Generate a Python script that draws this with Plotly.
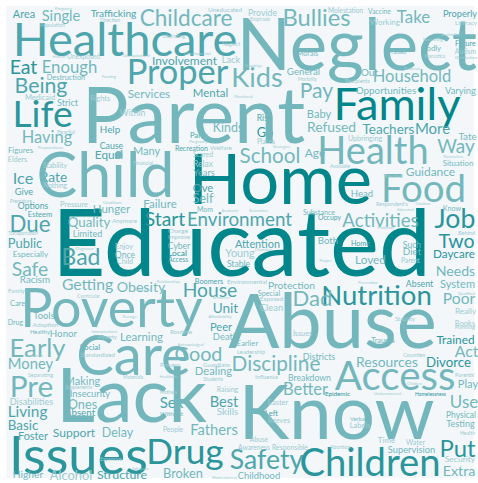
import glob
import struct
import plotly.graph_objects as go

# Word cloud data: (word, left px, right px, vertical middle of capitals px, tone)
ROWS = [
    ("Area", 13, 35, 14, "m"), ("Programs", 55, 72, 9, "p"), ("Single", 42, 80, 16, "l"),
    ("Population", 40, 65, 25, "p"), ("Trafficking", 90, 137, 13, "m"), ("Direction", 100, 120, 20, "p"),
    ("Childcare", 140, 232, 18, "l"), ("Uneducated", 208, 242, 10, "p"), ("Provide", 248, 277, 13, "p"),
    ("Emphasis", 250, 270, 19, "p"), ("Bullies", 283, 350, 17, "l"), ("Molestation", 328, 363, 11, "p"),
    ("Vaccine", 368, 391, 12, "l"), ("Working", 370, 400, 22, "p"), ("Take", 396, 431, 17, "l"),
    ("Properly", 443, 477, 14, "m"), ("Literacy", 455, 477, 23, "p"), ("Healthcare", 13, 237, 39, "m"),
    ("Neglect", 238, 476, 45, "l"), ("Liberating", 163, 185, 36, "p"), ("Neglect", 222, 240, 44, "p"),
    ("Developmental", 185, 210, 54, "p"), ("Morals", 297, 318, 53, "l"), ("Availability", 443, 458, 35, "p"),
    ("Nourishing", 423, 443, 39, "p"), ("Future", 455, 476, 43, "m"), ("Godly", 421, 441, 48, "l"),
    ("Praised", 388, 406, 52, "l"), ("Autism", 455, 476, 52, "p"), ("Narcotics", 425, 445, 56, "p"),
    ("Distribution", 455, 477, 57, "p"), ("Human", 53, 65, 57, "p"), ("Unexposed", 67, 100, 57, "p"),
    ("Unemployment", 125, 148, 56, "p"), ("Eat", 10, 37, 67, "d2"), ("Enough", 42, 97, 67, "l"),
    ("Involvement", 152, 217, 61, "m"), ("Lack", 222, 240, 60, "p"), ("Shootings", 247, 260, 66, "p"),
    ("Proper", 127, 228, 72, "m"), ("Kids", 232, 282, 77, "l"), ("General", 287, 320, 72, "l"),
    ("Out", 361, 378, 72, "l"), ("Behavior", 404, 420, 69, "p"), ("Household", 373, 451, 76, "l"),
    ("Destruction", 47, 85, 77, "l"), ("Funding", 103, 115, 77, "p"), ("Mortality", 298, 317, 79, "p"),
    ("Recipients", 345, 370, 81, "p"), ("Being", 15, 67, 85, "m"), ("Opportunities", 356, 416, 90, "l"),
    ("Varying", 445, 476, 91, "l"), ("Pay", 300, 333, 90, "l"), ("Mental", 193, 228, 93, "m"),
    ("Services", 128, 170, 94, "l"), ("Medicaid", 25, 55, 97, "p"), ("Rights", 90, 110, 98, "p"),
    ("Monitored", 235, 252, 97, "p"), ("Strict", 57, 78, 103, "l"), ("Family", 333, 461, 104, "d"),
    ("Within", 120, 145, 113, "p"), ("Life", 13, 72, 114, "d2"), ("Parent", 82, 305, 115, "l"),
    ("Baby", 307, 331, 114, "l"), ("Risk", 257, 272, 118, "m"), ("Refused", 307, 356, 127, "l"),
    ("Kinds", 213, 243, 128, "l"), ("Teachers", 362, 415, 129, "m"), ("More", 415, 450, 129, "m"),
    ("Help", 100, 120, 129, "m"), ("Fearful", 57, 75, 132, "p"), ("Go", 257, 273, 132, "d2"),
    ("Parks", 190, 208, 135, "m"), ("Tate", 458, 477, 136, "l"), ("Having", 22, 72, 137, "l"),
    ("Upbringing", 348, 382, 138, "p"), ("Pregnancy", 190, 207, 142, "p"), ("Places", 257, 275, 142, "p"),
    ("Cause", 100, 123, 146, "m"), ("Preparedness", 38, 63, 147, "p"), ("Way", 437, 475, 146, "l"),
    ("Strategies", 273, 290, 147, "p"), ("Recreation", 175, 208, 148, "m"), ("Welfare", 210, 232, 148, "p"),
    ("Figures", 8, 33, 150, "l"), ("Health", 318, 428, 150, "l"), ("Many", 133, 160, 151, "l"),
    ("Age", 305, 325, 153, "l"), ("Equal", 95, 123, 155, "m"), ("Scared", 193, 213, 155, "p"),
    ("School", 240, 300, 156, "l"), ("Themselves", 443, 463, 157, "p"), ("Elders", 8, 27, 159, "p"),
    ("Financial", 133, 153, 163, "p"), ("Situation", 443, 473, 163, "l"), ("Relax", 193, 213, 164, "p"),
    ("Stability", 43, 67, 166, "p"), ("Available", 330, 350, 166, "p"), ("Guidance", 406, 455, 172, "l"),
    ("Years", 193, 215, 173, "l"), ("Child", 38, 173, 175, "l"), ("Treated", 383, 403, 176, "p"),
    ("Rate", 40, 67, 177, "m"), ("Ice", 13, 33, 178, "m"), ("Home", 190, 371, 179, "d"),
    ("Nothing", 43, 67, 186, "p"), ("Ove", 193, 213, 188, "m"), ("Food", 381, 466, 188, "l"),
    ("Give", 15, 33, 192, "m"), ("Head", 351, 373, 194, "l"), ("Self", 193, 213, 199, "l"),
    ("Premature", 10, 32, 201, "p"), ("Conditions", 105, 120, 203, "p"), ("Failure", 143, 177, 204, "l"),
    ("Pressure", 60, 88, 204, "p"), ("Respondent's", 376, 408, 204, "p"), ("Outdoor", 416, 430, 204, "p"),
    ("Options", 18, 48, 206, "m"), ("Know", 443, 461, 208, "l"), ("Hunger", 93, 130, 209, "l"),
    ("Mom", 197, 213, 209, "l"), ("Educated", 398, 413, 210, "p"), ("Academic", 223, 237, 211, "p"),
    ("Economics", 250, 267, 211, "p"), ("Substance", 303, 335, 212, "l"), ("Esteem", 28, 52, 214, "m"),
    ("Occupy", 318, 341, 218, "m"), ("Job", 435, 475, 218, "d2"), ("Start", 145, 185, 219, "d2"),
    ("Environment", 187, 292, 219, "m"), ("Activities", 343, 418, 220, "l"), ("Anymore", 112, 137, 221, "p"),
    ("Quality", 68, 110, 222, "l"), ("Due", 10, 50, 224, "m"), ("Problems", 378, 393, 228, "p"),
    ("Charge", 168, 188, 231, "p"), ("Transportation", 8, 38, 233, "p"), ("Behind", 458, 475, 233, "p"),
    ("Limited", 73, 102, 234, "l"), ("Improve", 168, 190, 237, "p"), ("Both", 318, 338, 241, "l"),
    ("Two", 438, 475, 241, "d2"), ("Educated", 53, 430, 243, "d"), ("Public", 8, 42, 243, "m"),
    ("Home", 351, 370, 243, "m"), ("Attention", 235, 280, 244, "m"), ("Such", 403, 421, 245, "l"),
    ("Cyber", 168, 190, 246, "l"), ("Enjoy", 115, 133, 246, "p"), ("Diagnoses", 77, 92, 249, "p"),
    ("Disorders", 257, 270, 250, "p"), ("Diet", 403, 421, 252, "l"), ("Local", 168, 187, 253, "d2"),
    ("Young", 225, 255, 253, "p"), ("Especially", 13, 48, 254, "l"), ("Daycare", 433, 475, 254, "d2"),
    ("Once", 115, 135, 255, "l"), ("Bad", 62, 100, 257, "m"), ("Access", 168, 188, 260, "m"),
    ("Loved", 355, 386, 260, "l"), ("Child", 117, 133, 261, "p"), ("Parent", 401, 420, 261, "p"),
    ("Proper", 320, 331, 261, "p"), ("Stable", 227, 250, 264, "l"), ("Safe", 12, 48, 269, "l"),
    ("Needs", 436, 475, 271, "l"), ("Racism", 20, 50, 279, "l"), ("Boomers", 195, 223, 281, "m"),
    ("Environmental", 227, 267, 282, "p"), ("Relationships", 157, 180, 282, "p"), ("Prevention", 358, 378, 283, "p"),
    ("Getting", 62, 113, 284, "l"), ("Absent", 406, 433, 284, "m"), ("System", 440, 475, 284, "l"),
    ("Protection", 268, 315, 285, "l"), ("Obesity", 117, 165, 287, "l"), ("Insurance", 135, 152, 290, "p"),
    ("House", 183, 237, 290, "m"), ("Family", 8, 25, 291, "p"), ("Special", 258, 280, 293, "l"),
    ("Qualified", 458, 475, 293, "p"), ("Nutrition", 322, 431, 295, "d2"), ("Curricular", 77, 100, 296, "p"),
    ("Whatever", 215, 227, 298, "p"), ("Poor", 443, 475, 298, "l"), ("Dad", 293, 332, 298, "l"),
    ("Exposed", 260, 283, 299, "p"), ("Care", 10, 25, 303, "l"), ("Poverty", 20, 203, 308, "l"),
    ("Unit", 213, 238, 308, "m"), ("Clean", 260, 283, 308, "p"), ("Really", 455, 476, 311, "p"),
    ("Affordability", 208, 232, 316, "p"), ("Tools", 33, 55, 316, "l"), ("Teenage", 122, 137, 317, "p"),
    ("Stability", 395, 415, 319, "p"), ("Abuse", 230, 435, 321, "l"), ("Drug", 8, 23, 323, "l"),
    ("Books", 455, 475, 323, "p"), ("Adoption", 33, 58, 325, "p"), ("Peer", 210, 232, 327, "m"),
    ("Planning", 455, 475, 327, "p"), ("Routine", 170, 192, 332, "p"), ("Healthy", 30, 50, 332, "l"),
    ("Immunizations", 92, 117, 332, "p"), ("Issues", 293, 312, 333, "p"), ("Honor", 50, 77, 334, "l"),
    ("Death", 213, 238, 337, "l"), ("Learning", 120, 163, 337, "l"), ("Poverty", 98, 117, 337, "p"),
    ("Trained", 436, 475, 340, "d2"), ("Trauma", 371, 395, 340, "l"), ("Earlier", 237, 258, 343, "l"),
    ("Acknowledged", 178, 203, 345, "p"), ("Social", 80, 100, 347, "m"), ("Early", 10, 65, 348, "l"),
    ("Act", 455, 478, 351, "l"), ("Leadership", 237, 265, 352, "p"), ("Good", 175, 222, 354, "l"),
    ("Care", 77, 190, 355, "l"), ("Deadbeat", 25, 43, 355, "p"), ("Standardized", 80, 115, 355, "p"),
    ("Counties", 403, 425, 355, "p"), ("Districts", 303, 335, 357, "l"), ("Resources", 356, 418, 362, "l"),
    ("Divorce", 426, 471, 362, "d2"), ("Discipline", 232, 320, 364, "l"), ("Money", 8, 53, 364, "l"),
    ("Process", 160, 180, 365, "p"), ("Guardians", 203, 230, 365, "p"), ("Dealing", 195, 232, 371, "l"),
    ("Separating", 28, 53, 375, "p"), ("Parents'", 455, 475, 375, "p"), ("Access", 335, 455, 376, "l"),
    ("Healthcare", 160, 178, 377, "p"), ("Materials", 123, 143, 377, "p"), ("Influence", 255, 278, 377, "p"),
    ("Breakdown", 288, 331, 378, "l"), ("Students", 203, 223, 379, "p"), ("Making", 65, 100, 381, "l"),
    ("Children", 408, 421, 384, "p"), ("Play", 458, 478, 384, "l"), ("Pre", 10, 53, 386, "l"),
    ("Supplements", 65, 92, 387, "p"), ("Better", 283, 328, 389, "l"), ("Raising", 217, 238, 390, "p"),
    ("Mothers", 160, 177, 392, "p"), ("Insecurity", 70, 110, 394, "l"), ("Epidemic", 325, 350, 394, "d2"),
    ("Undocumented", 375, 400, 394, "p"), ("Homelessness", 415, 446, 394, "d2"), ("Lack", 58, 205, 395, "l"),
    ("Disabilities", 10, 53, 402, "p"), ("Easter", 268, 288, 402, "p"), ("Use", 450, 478, 402, "l"),
    ("Sex", 160, 183, 403, "m"), ("Best", 210, 238, 402, "m"), ("Ones", 68, 97, 404, "l"),
    ("Skills", 217, 238, 412, "p"), ("Know", 240, 433, 412, "l"), ("Living", 8, 47, 412, "m"),
    ("Absent", 65, 95, 413, "m"), ("Left", 265, 278, 413, "m"), ("Without", 160, 183, 414, "l"),
    ("Physical", 446, 476, 415, "l"), ("Verbal", 350, 366, 419, "l"), ("Reeves", 268, 290, 420, "p"),
    ("Testing", 446, 475, 424, "l"), ("Basic", 8, 38, 425, "m"), ("Labels", 350, 370, 425, "p"),
    ("People", 163, 183, 430, "p"), ("Fathers", 190, 238, 430, "l"), ("Support", 53, 95, 433, "m"),
    ("Delay", 102, 133, 433, "l"), ("Health", 460, 475, 433, "p"), ("Foster", 18, 48, 436, "m"),
    ("Time", 378, 395, 440, "p"), ("Abuse", 250, 268, 440, "p"), ("Water", 406, 425, 443, "p"),
    ("Abortion", 330, 350, 447, "p"), ("Awareness", 238, 270, 448, "p"), ("Responsible", 272, 308, 448, "p"),
    ("Put", 440, 475, 448, "d2"), ("Supervision", 388, 435, 450, "l"), ("Drug", 147, 223, 451, "d2"),
    ("Issues", 10, 147, 455, "d2"), ("Safety", 230, 303, 459, "m"), ("Security", 445, 475, 459, "p"),
    ("Expensive", 100, 122, 459, "p"), ("Children", 300, 440, 462, "d2"), ("Adequate", 133, 148, 469, "p"),
    ("Extra", 443, 475, 471, "l"), ("Broken", 163, 203, 473, "l"), ("Higher", 13, 43, 474, "l"),
    ("Alcohol", 50, 92, 475, "p"), ("Structure", 97, 147, 475, "m"), ("Childhood", 238, 280, 476, "l"),
    ("Homeowners", 212, 237, 477, "p"),
]

WORDS = [r[0] for r in ROWS]
X_LEFT = [r[1] for r in ROWS]
X_RIGHT = [r[2] for r in ROWS]
Y_MID = [r[3] for r in ROWS]
TONE = [r[4] for r in ROWS]

PALETTE = {"d": "#00868b", "d2": "#2a959b", "m": "#4ea5ac", "l": "#73b7bd", "p": "#9dcbd0"}
FONT = "Lato"

# fallback advance widths (em)
ADV = dict(A=.68, B=.63, C=.66, D=.74, E=.56, F=.53, G=.72, H=.76, I=.29, J=.40, K=.66, L=.49,
           M=.90, N=.76, O=.80, P=.59, Q=.80, R=.62, S=.52, T=.59, U=.73, V=.68, W=1.02, X=.65,
           Y=.62, Z=.60, a=.50, b=.56, c=.46, d=.56, e=.53, f=.33, g=.50, h=.56, i=.24, j=.24,
           k=.51, l=.24, m=.84, n=.56, o=.56, p=.56, q=.56, r=.37, s=.42, t=.35, u=.56, v=.50,
           w=.76, x=.49, y=.50, z=.45)
ADV["'"] = .22
CAP = 0.72


def read_font_metrics():
    paths = []
    for pat in ("/usr/share/fonts/**/Lato-Regular.ttf", "/usr/share/fonts/**/Lato*Regular*.ttf",
                "/usr/local/share/fonts/**/Lato-Regular.ttf", "/usr/share/fonts/**/Lato-Reg*.ttf"):
        paths += glob.glob(pat, recursive=True)
    if not paths:
        return None
    data = open(paths[0], "rb").read()
    ntab = struct.unpack(">H", data[4:6])[0]
    tabs = {}
    for i in range(ntab):
        tag, _, off, ln = struct.unpack(">4sIII", data[12 + 16 * i:28 + 16 * i])
        tabs[tag.decode("latin1")] = off
    upm = struct.unpack(">H", data[tabs["head"] + 18:tabs["head"] + 20])[0]
    nh = struct.unpack(">H", data[tabs["hhea"] + 34:tabs["hhea"] + 36])[0]
    ho = tabs["hmtx"]
    adv = [struct.unpack(">H", data[ho + 4 * i:ho + 4 * i + 2])[0] for i in range(nh)]
    cap = None
    if "OS/2" in tabs:
        o = tabs["OS/2"]
        ver = struct.unpack(">H", data[o:o + 2])[0]
        if ver >= 2:
            cap = struct.unpack(">h", data[o + 88:o + 90])[0] / upm
    co = tabs["cmap"]
    n = struct.unpack(">H", data[co + 2:co + 4])[0]
    sub = None
    for i in range(n):
        pid, eid, so = struct.unpack(">HHI", data[co + 4 + 8 * i:co + 12 + 8 * i])
        fmt = struct.unpack(">H", data[co + so:co + so + 2])[0]
        if fmt == 4 and (pid == 3 or sub is None):
            sub = co + so
    if sub is None:
        return None
    segx2 = struct.unpack(">H", data[sub + 6:sub + 8])[0]
    seg = segx2 // 2
    ends = struct.unpack(">%dH" % seg, data[sub + 14:sub + 14 + segx2])
    starts = struct.unpack(">%dH" % seg, data[sub + 16 + segx2:sub + 16 + 2 * segx2])
    deltas = struct.unpack(">%dh" % seg, data[sub + 16 + 2 * segx2:sub + 16 + 3 * segx2])
    rpos = sub + 16 + 3 * segx2
    roffs = struct.unpack(">%dH" % seg, data[rpos:rpos + segx2])

    def gid(cp):
        for k in range(seg):
            if ends[k] >= cp:
                if starts[k] > cp:
                    return 0
                if roffs[k] == 0:
                    return (cp + deltas[k]) & 0xFFFF
                addr = rpos + 2 * k + roffs[k] + 2 * (cp - starts[k])
                g = struct.unpack(">H", data[addr:addr + 2])[0]
                return (g + deltas[k]) & 0xFFFF if g else 0
        return 0

    widths = {}
    for ch in set("".join(WORDS)):
        g = gid(ord(ch))
        widths[ch] = adv[min(g, nh - 1)] / upm
    return widths, cap


try:
    res = read_font_metrics()
    if res:
        ADV.update(res[0])
        if res[1]:
            CAP = res[1]
except Exception:
    pass


def em_width(word):
    return sum(ADV.get(c, .52) for c in word) - 0.05


fig = go.Figure()
for tone, col in PALETTE.items():
    idx = [i for i, t in enumerate(TONE) if t == tone]
    sizes = [max(4.0, (X_RIGHT[i] - X_LEFT[i]) / em_width(WORDS[i])) for i in idx]
    # plotly puts the baseline 0.25 em below the given y for middle-aligned text
    ys = [Y_MID[i] + s * (CAP / 2 - 0.25) for i, s in zip(idx, sizes)]
    fig.add_trace(go.Scatter(
        x=[(X_LEFT[i] + X_RIGHT[i]) / 2 for i in idx],
        y=ys,
        text=[WORDS[i] for i in idx],
        mode="text",
        textposition="middle center",
        textfont=dict(family=FONT, color=col, size=sizes),
        hoverinfo="skip",
        cliponaxis=False,
        showlegend=False,
    ))

fig.add_shape(type="rect", xref="x", yref="y", x0=6, x1=474, y0=6, y1=478,
              fillcolor="#f3f7fa", line_width=0, layer="below")

fig.update_xaxes(range=[0, 478], visible=False, fixedrange=True)
fig.update_yaxes(range=[483, 0], visible=False, fixedrange=True)
fig.update_layout(width=478, height=483, margin=dict(l=0, r=0, t=0, b=0),
                  paper_bgcolor="white", plot_bgcolor="white")

fig.write_html(
    "out.html",
    config={"displayModeBar": False},
    post_script="document.body.style.margin='0';document.body.style.overflow='hidden';",
)
